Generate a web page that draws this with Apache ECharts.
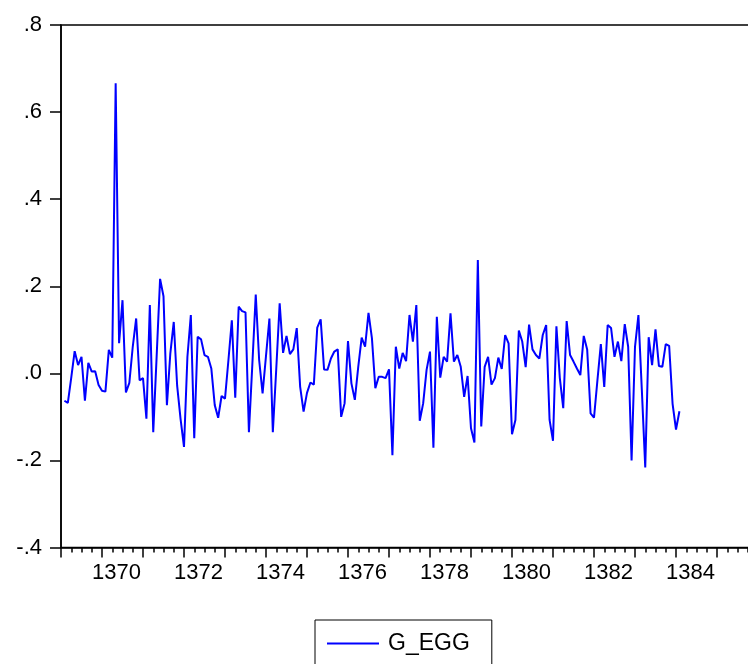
<!DOCTYPE html>
<html>
<head>
<meta charset="utf-8">
<script src="https://cdn.jsdelivr.net/npm/echarts@6/dist/echarts.min.js"></script>
<style>
html,body{margin:0;padding:0;background:#fff;}
#chart{width:748px;height:664px;}
</style>
</head>
<body>
<div id="chart"></div>
<script>
// Monthly series G_EGG, first observation is month 1 after the axis origin (1369M01)
const seriesName = 'G_EGG';
const originYear = 1369;
const firstMonth = 1;
const gEgg = [
  -0.063, -0.068, -0.010, 0.051, 0.019, 0.038, -0.063, 0.024, 0.004, 0.005,
  -0.027, -0.040, -0.042, 0.054, 0.036, 0.666, 0.069, 0.168, -0.044, -0.022,
  0.061, 0.126, -0.016, -0.011, -0.104, 0.157, -0.135, 0.040, 0.217, 0.177,
  -0.073, 0.046, 0.118, -0.029, -0.105, -0.169, 0.038, 0.134, -0.149, 0.084,
  0.078, 0.042, 0.038, 0.011, -0.073, -0.102, -0.052, -0.058, 0.030, 0.122,
  -0.056, 0.153, 0.143, 0.140, -0.135, 0.020, 0.181, 0.030, -0.046, 0.040,
  0.126, -0.135, 0.010, 0.161, 0.047, 0.086, 0.044, 0.055, 0.104, -0.031,
  -0.088, -0.045, -0.021, -0.026, 0.105, 0.124, 0.009, 0.008, 0.034, 0.050,
  0.055, -0.100, -0.069, 0.074, -0.023, -0.061, 0.015, 0.082, 0.061, 0.139,
  0.081, -0.034, -0.008, -0.008, -0.011, 0.009, -0.188, 0.061, 0.011, 0.047,
  0.028, 0.134, 0.073, 0.157, -0.109, -0.069, 0.008, 0.050, -0.171, 0.130,
  -0.010, 0.038, 0.027, 0.138, 0.027, 0.042, 0.015, -0.054, -0.006, -0.126,
  -0.159, 0.260, -0.122, 0.015, 0.038, -0.026, -0.011, 0.036, 0.010, 0.088,
  0.069, -0.140, -0.107, 0.098, 0.073, 0.014, 0.112, 0.055, 0.042, 0.034,
  0.088, 0.111, -0.107, -0.155, 0.108, -0.011, -0.080, 0.120, 0.042, 0.027,
  0.011, -0.004, 0.086, 0.055, -0.092, -0.102, -0.016, 0.067, -0.031, 0.111,
  0.104, 0.038, 0.073, 0.028, 0.113, 0.061, -0.200, 0.061, 0.134, -0.038,
  -0.216, 0.083, 0.019, 0.101, 0.017, 0.015, 0.067, 0.063, -0.070, -0.129,
  -0.087
];
const xTickLabels = ['1370', '1372', '1374', '1376', '1378', '1380', '1382', '1384'];
const yTickLabels = ['-.4', '-.2', '.0', '.2', '.4', '.6', '.8'];

const points = gEgg.map((v, i) => [firstMonth + i, v]);
const FONT = '"Liberation Sans", Arial, sans-serif';

const chart = echarts.init(document.getElementById('chart'), null, {renderer: 'canvas'});
chart.setOption({
  animation: false,
  backgroundColor: '#ffffff',
  textStyle: {fontFamily: FONT},
  grid: {
    left: 61, top: 25, width: 697, height: 522.5,
    outerBoundsMode: 'none',
    containLabel: false,
    show: true, borderColor: '#000', borderWidth: 1.5, backgroundColor: 'transparent'
  },
  xAxis: {
    type: 'value',
    min: 0, max: 204, interval: 12,
    axisLine: {show: true, onZero: false, lineStyle: {color: '#000', width: 1.5}},
    axisTick: {show: true, length: 10, lineStyle: {color: '#000', width: 1.5}},
    minorTick: {show: true, splitNumber: 4, length: 5, lineStyle: {color: '#000', width: 1.5}},
    splitLine: {show: false},
    minorSplitLine: {show: false},
    axisLabel: {
      show: true, margin: 14, fontSize: 22, color: '#000', fontFamily: FONT,
      padding: [0, 0, 0, 29],
      formatter: function (v) {
        const year = String(originYear + Math.round(v / 12));
        return xTickLabels.indexOf(year) >= 0 ? year : '';
      }
    }
  },
  yAxis: {
    type: 'value',
    min: -0.4, max: 0.8, interval: 0.2,
    axisLine: {show: true, onZero: false, lineStyle: {color: '#000', width: 1.5}},
    axisTick: {show: true, length: 11, lineStyle: {color: '#000', width: 1.5}},
    splitLine: {show: false},
    axisLabel: {
      show: true, margin: 19, fontSize: 22, color: '#000', fontFamily: FONT,
      formatter: function (v) {
        const idx = Math.round((v + 0.4) / 0.2);
        return yTickLabels[idx] || '';
      }
    }
  },
  legend: {
    show: true,
    left: 315, top: 620,
    orient: 'horizontal',
    borderColor: '#000', borderWidth: 1,
    padding: [12, 22, 30, 12],
    itemWidth: 52, itemHeight: 2,
    textStyle: {fontSize: 23, color: '#000', fontFamily: FONT, padding: [0, 0, 0, 4]},
    data: [{name: seriesName, icon: 'rect'}]
  },
  series: [{
    name: seriesName,
    type: 'line',
    data: points,
    symbol: 'none',
    showSymbol: false,
    lineStyle: {color: '#0000ff', width: 2},
    itemStyle: {color: '#0000ff'}
  }]
});
</script>
</body>
</html>
